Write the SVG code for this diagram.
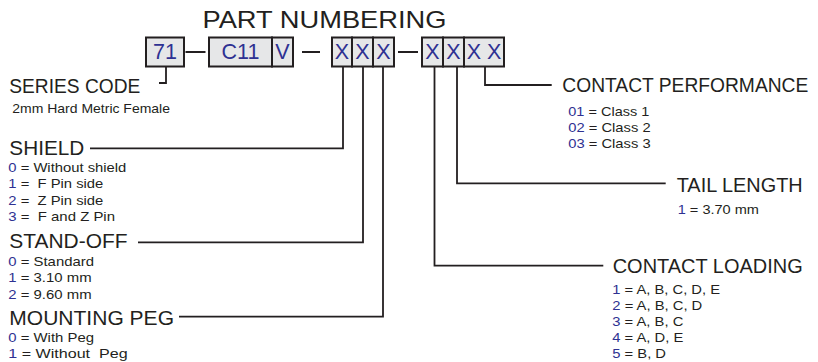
<svg xmlns="http://www.w3.org/2000/svg" width="818" height="362" viewBox="0 0 818 362">
<style>
text{font-family:"Liberation Sans",Arial,sans-serif;fill:#231f20}
.h{font-size:20px}
.i{font-size:13.2px;white-space:pre}
.n{fill:#2e3192}
.b{fill:#e6e7e8;stroke:#231f20;stroke-width:2}
.bt{font-size:21.5px;fill:#2e3192;text-anchor:middle}
.c{fill:none;stroke:#231f20;stroke-width:1.8}
</style>
<rect width="818" height="362" fill="#fff"/>
<text x="202.5" y="28" font-size="24.5" textLength="244" lengthAdjust="spacingAndGlyphs">PART NUMBERING</text>
<g id="connectors" class="c">
<path d="M185.5 52H205.5M302 52H320M398 52H418"/>
<path d="M166 66.5V83H159"/>
<path d="M343 66.5V148.3H90"/>
<path d="M363 66.5V242.3H138"/>
<path d="M383 66.5V316.7H179"/>
<path d="M434.5 66.5V265.7H603.3"/>
<path d="M457 66.5V183.3H665.7"/>
<path d="M485 66.5V85H551.7"/>
</g>
<g id="box-71"><rect class="b" x="146" y="37.5" width="38" height="29"/><text class="bt" x="165" y="59.3">71</text></g>
<g id="box-c11"><rect class="b" x="209" y="37.5" width="63" height="29"/><text class="bt" x="240.5" y="59.3">C11</text></g>
<g id="box-v"><rect class="b" x="272" y="37.5" width="21" height="29"/><text class="bt" x="282.5" y="59.3">V</text></g>
<g id="box-shield"><rect class="b" x="332" y="37.5" width="20" height="29"/><text class="bt" x="342" y="59.3">X</text></g>
<g id="box-standoff"><rect class="b" x="352" y="37.5" width="21" height="29"/><text class="bt" x="362.5" y="59.3">X</text></g>
<g id="box-peg"><rect class="b" x="373" y="37.5" width="21" height="29"/><text class="bt" x="383.5" y="59.3">X</text></g>
<g id="box-loading"><rect class="b" x="422" y="37.5" width="21" height="29"/><text class="bt" x="432.5" y="59.3">X</text></g>
<g id="box-tail"><rect class="b" x="443" y="37.5" width="21" height="29"/><text class="bt" x="453.5" y="59.3">X</text></g>
<g id="box-perf"><rect class="b" x="464" y="37.5" width="40" height="29"/><text class="bt" x="484" y="59.3" xml:space="preserve">X X</text></g>
<g id="series-code">
<text class="h" x="9.3" y="92.7" textLength="131" lengthAdjust="spacingAndGlyphs">SERIES CODE</text>
<text class="i" x="12.3" y="113" textLength="157.7" lengthAdjust="spacingAndGlyphs">2mm Hard Metric Female</text>
</g>
<g id="shield">
<text class="h" x="9.3" y="155" textLength="75" lengthAdjust="spacingAndGlyphs">SHIELD</text>
<text class="i" x="8.3" y="171.5" textLength="118" lengthAdjust="spacingAndGlyphs"><tspan class="n">0</tspan> = Without shield</text>
<text class="i" x="8.3" y="188" textLength="95" lengthAdjust="spacingAndGlyphs" xml:space="preserve"><tspan class="n">1</tspan> =  F Pin side</text>
<text class="i" x="8.3" y="204.5" textLength="95" lengthAdjust="spacingAndGlyphs" xml:space="preserve"><tspan class="n">2</tspan> =  Z Pin side</text>
<text class="i" x="8.3" y="221" textLength="106.7" lengthAdjust="spacingAndGlyphs" xml:space="preserve"><tspan class="n">3</tspan> =  F and Z Pin</text>
</g>
<g id="stand-off">
<text class="h" x="9.3" y="247.7" textLength="118.3" lengthAdjust="spacingAndGlyphs">STAND-OFF</text>
<text class="i" x="8.3" y="265.7" textLength="85.7" lengthAdjust="spacingAndGlyphs"><tspan class="n">0</tspan> = Standard</text>
<text class="i" x="8.3" y="282.3" textLength="83.3" lengthAdjust="spacingAndGlyphs"><tspan class="n">1</tspan> = 3.10 mm</text>
<text class="i" x="8.3" y="299" textLength="83.3" lengthAdjust="spacingAndGlyphs"><tspan class="n">2</tspan> = 9.60 mm</text>
</g>
<g id="mounting-peg">
<text class="h" x="9.3" y="325" textLength="164.7" lengthAdjust="spacingAndGlyphs">MOUNTING PEG</text>
<text class="i" x="8.3" y="341.7" textLength="85.7" lengthAdjust="spacingAndGlyphs"><tspan class="n">0</tspan> = With Peg</text>
<text class="i" x="8.3" y="358.3" textLength="119.3" lengthAdjust="spacingAndGlyphs" xml:space="preserve"><tspan class="n">1</tspan> = Without  Peg</text>
</g>
<g id="contact-performance">
<text class="h" x="562.3" y="92.3" textLength="246" lengthAdjust="spacingAndGlyphs">CONTACT PERFORMANCE</text>
<text class="i" x="568.3" y="115.5" textLength="81" lengthAdjust="spacingAndGlyphs"><tspan class="n">01</tspan> = Class 1</text>
<text class="i" x="568.3" y="132" textLength="82.3" lengthAdjust="spacingAndGlyphs"><tspan class="n">02</tspan> = Class 2</text>
<text class="i" x="568.3" y="148.3" textLength="82.3" lengthAdjust="spacingAndGlyphs"><tspan class="n">03</tspan> = Class 3</text>
</g>
<g id="tail-length">
<text class="h" x="676.7" y="191.7" textLength="126" lengthAdjust="spacingAndGlyphs">TAIL LENGTH</text>
<text class="i" x="677.7" y="214" textLength="81.3" lengthAdjust="spacingAndGlyphs"><tspan class="n">1</tspan> = 3.70 mm</text>
</g>
<g id="contact-loading">
<text class="h" x="612.7" y="273.3" textLength="190" lengthAdjust="spacingAndGlyphs">CONTACT LOADING</text>
<text class="i" x="612.3" y="294" textLength="107.7" lengthAdjust="spacingAndGlyphs"><tspan class="n">1</tspan> = A, B, C, D, E</text>
<text class="i" x="612.3" y="310" textLength="90" lengthAdjust="spacingAndGlyphs"><tspan class="n">2</tspan> = A, B, C, D</text>
<text class="i" x="612.3" y="326" textLength="71" lengthAdjust="spacingAndGlyphs"><tspan class="n">3</tspan> = A, B, C</text>
<text class="i" x="612.3" y="342" textLength="71" lengthAdjust="spacingAndGlyphs"><tspan class="n">4</tspan> = A, D, E</text>
<text class="i" x="612.3" y="358.3" textLength="53.7" lengthAdjust="spacingAndGlyphs"><tspan class="n">5</tspan> = B, D</text>
</g>
</svg>
